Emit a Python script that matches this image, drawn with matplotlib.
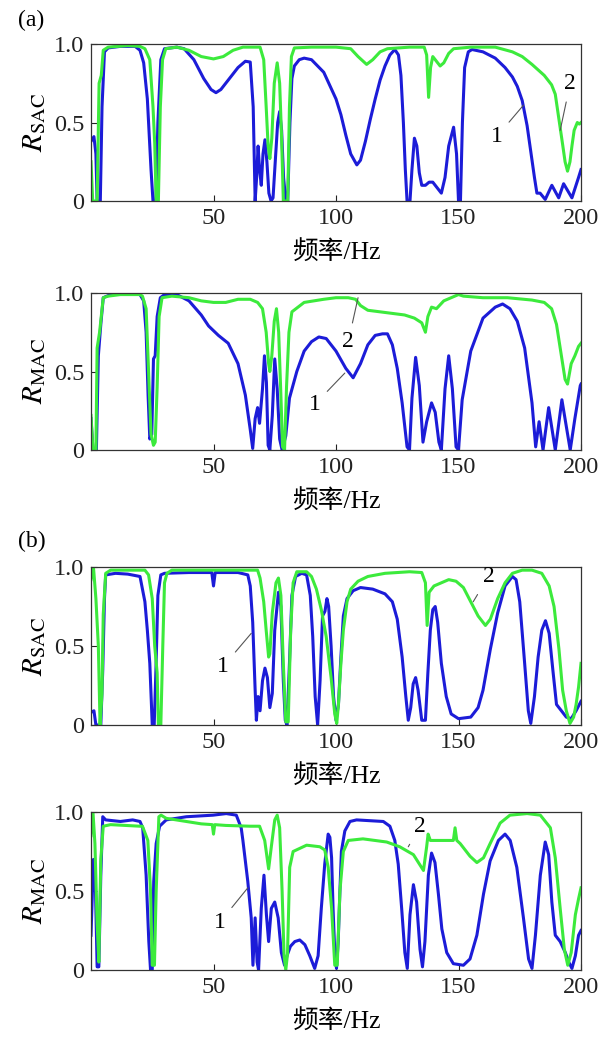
import matplotlib
matplotlib.use("Agg")
import matplotlib.pyplot as plt

plt.rcParams['font.family'] = ['Liberation Serif', 'Noto Sans CJK SC', 'DejaVu Sans']
plt.rcParams['mathtext.fontset'] = 'stix'

# ---------------- data (frequency in Hz, correlation value) ----------------
a1_blue_f = [0, 1.2, 2.0, 2.5, 3.8, 4.5, 5.5, 7, 12, 18, 20, 21.5, 23, 24.5, 25.3, 26.5, 27.3, 28.5, 30, 35,
             38, 42, 46, 49, 51, 53, 56, 60, 63, 65, 66.2, 67, 67.6, 68.2, 68.8, 69.5, 70.2, 71, 71.8, 72.6,
             73.5, 74.3, 75.2, 76.2, 77, 77.8, 78.6, 79.5, 80.3, 81.2, 82, 83, 85, 87, 90, 95, 100, 102, 104,
             106, 108.5, 110, 112, 114, 116, 118, 120, 122, 124, 125.5, 126.5, 127.5, 128.3, 129, 130.2, 131,
             132, 133, 134, 135, 136.5, 138, 139.5, 141, 143, 144.5, 146, 148, 149.2, 150, 150.8, 151.6, 152.5,
             154, 155.5, 160, 165, 169, 172, 174, 176, 178, 180, 181, 182, 183.3, 185.4, 188.1, 190.9, 192.9,
             196.3, 199, 200]
a1_blue = [0.38, 0.41, 0.3, 0.0, 0.0, 0.6, 0.95, 0.975, 0.985, 0.985, 0.96, 0.88, 0.65, 0.2, 0.0, 0.0, 0.5, 0.9,
           0.97, 0.98, 0.97, 0.9, 0.78, 0.71, 0.69, 0.71, 0.77, 0.85, 0.89, 0.885, 0.6, 0.0, 0.15, 0.35, 0.2,
           0.1, 0.3, 0.39, 0.25, 0.05, 0.0, 0.02, 0.25, 0.5, 0.57, 0.45, 0.15, 0.0, 0.0, 0.5, 0.78, 0.86, 0.9,
           0.91, 0.9, 0.82, 0.65, 0.55, 0.42, 0.3, 0.23, 0.26, 0.38, 0.52, 0.65, 0.77, 0.86, 0.93, 0.965, 0.93,
           0.8, 0.5, 0.2, 0.0, 0.0, 0.2, 0.4, 0.35, 0.18, 0.1, 0.1, 0.12, 0.12, 0.09, 0.05, 0.15, 0.35, 0.47,
           0.3, 0.0, 0.0, 0.5, 0.85, 0.95, 0.965, 0.95, 0.91, 0.85, 0.79, 0.73, 0.64, 0.48, 0.26, 0.15, 0.05,
           0.05, 0.01, 0.10, 0.02, 0.11, 0.02, 0.15, 0.2]

a1_green_f = [0, 0.7, 2.5, 3.3, 4.2, 5, 7, 15, 20, 22, 24, 25.3, 26, 26.6, 27.5, 28.3, 29.2, 30.5, 35, 40, 45,
              50, 54, 58, 62, 69, 70.5, 71.5, 72.3, 73, 73.8, 74.8, 76, 77, 77.8, 78.5, 80.3, 81, 81.8, 83, 90,
              100, 106, 109, 112.5, 115, 118, 121, 130, 136, 137, 137.8, 138.6, 139.5, 141, 142.5, 144, 146,
              148, 155, 165, 172, 176, 180, 185, 188, 189.5, 191, 192.5, 193.5, 194.5, 195.5, 196.3, 197.2,
              198.5, 199.3, 200]
a1_green = [0.25, 0.0, 0.0, 0.75, 0.8, 0.96, 0.98, 0.99, 0.985, 0.97, 0.9, 0.6, 0.37, 0.0, 0.0, 0.6, 0.9, 0.97,
            0.98, 0.96, 0.92, 0.905, 0.92, 0.96, 0.98, 0.98, 0.9, 0.6, 0.35, 0.27, 0.4, 0.75, 0.88, 0.75, 0.4,
            0.0, 0.0, 0.6, 0.92, 0.975, 0.98, 0.98, 0.97, 0.92, 0.87, 0.9, 0.95, 0.97, 0.98, 0.98, 0.93, 0.66,
            0.85, 0.92, 0.89, 0.86, 0.88, 0.94, 0.97, 0.98, 0.98, 0.95, 0.92, 0.87, 0.8, 0.74, 0.68, 0.52, 0.36,
            0.25, 0.19, 0.25, 0.35, 0.45, 0.5, 0.49, 0.5]

a2_blue_f = [0, 0.8, 2.2, 3, 4, 5, 8, 15, 20, 21.5, 22.5, 23.3, 24, 24.8, 25.5, 26.2, 27, 28.3, 30, 35, 40, 45,
             48, 52, 56, 60, 63, 65, 66, 67, 68, 68.8, 70, 70.8, 71.6, 72.3, 73, 74, 75, 76, 77, 78, 79.5, 81,
             84, 87, 90, 93, 96, 100, 104, 107, 110, 113, 116, 119, 121, 123, 125, 127, 129, 130, 131, 132.5,
             134, 135.5, 137, 139, 140.5, 142, 143, 144.5, 146, 147.5, 149, 150, 151.5, 155, 160, 165, 168,
             171, 174, 177, 180, 181.5, 182.9, 184.5, 186.8, 189.5, 192.2, 195.6, 197.5, 199.7, 200]
a2_blue = [0.2, 0.0, 0.0, 0.6, 0.8, 0.97, 0.99, 0.995, 0.99, 0.95, 0.75, 0.35, 0.07, 0.1, 0.58, 0.6, 0.85, 0.97,
           0.99, 0.99, 0.95, 0.86, 0.79, 0.73, 0.68, 0.55, 0.35, 0.13, 0.01, 0.2, 0.27, 0.17, 0.39, 0.6, 0.43,
           0.03, 0.0, 0.22, 0.58, 0.39, 0.07, 0.0, 0.09, 0.33, 0.5, 0.63, 0.69, 0.72, 0.71, 0.63, 0.52, 0.46,
           0.55, 0.67, 0.73, 0.74, 0.74, 0.67, 0.52, 0.3, 0.02, 0.0, 0.33, 0.59, 0.41, 0.05, 0.18, 0.3, 0.24,
           0.05, 0.0, 0.39, 0.6, 0.39, 0.02, 0.0, 0.32, 0.63, 0.84, 0.91, 0.93, 0.9, 0.82, 0.65, 0.3, 0.02,
           0.18, 0.0, 0.27, 0.0, 0.32, 0.0, 0.2, 0.41, 0.42]

a2_green_f = [0, 0.8, 2, 2.5, 3.5, 5, 7, 12, 20, 21, 22.5, 23.5, 24.5, 25.5, 26.2, 27, 27.8, 29, 33, 40, 45, 50,
              55, 60, 65, 68, 70, 71.5, 72.5, 73, 73.8, 74.8, 75.7, 76.6, 77.5, 78.2, 79, 79.8, 80.8, 82, 87,
              95, 100, 105, 108, 110, 113, 118, 123, 128, 132, 135, 136.5, 137.5, 139, 141, 144, 147, 150, 152,
              160, 170, 180, 185, 188, 190, 192, 193.5, 194.5, 196, 197.5, 199, 200]
a2_green = [0.22, 0.0, 0.0, 0.65, 0.75, 0.97, 0.98, 0.99, 0.99, 0.98, 0.9, 0.5, 0.1, 0.03, 0.05, 0.4, 0.85, 0.97,
            0.98, 0.97, 0.95, 0.94, 0.94, 0.96, 0.96, 0.94, 0.9, 0.75, 0.55, 0.5, 0.6, 0.82, 0.9, 0.75, 0.35,
            0.02, 0.0, 0.4, 0.75, 0.88, 0.94, 0.96, 0.97, 0.97, 0.96, 0.92, 0.89, 0.88, 0.87, 0.86, 0.84, 0.81,
            0.75, 0.85, 0.91, 0.9, 0.95, 0.97, 0.99, 0.98, 0.97, 0.97, 0.955, 0.94, 0.9, 0.8, 0.6, 0.45, 0.42,
            0.55, 0.6, 0.66, 0.68]

b1_blue_f = [0, 1.2, 2, 4, 4.8, 5.5, 6, 10, 15, 20, 22, 23, 24, 25, 25.8, 26.5, 27.3, 28.5, 30, 40, 49.3, 50,
             50.7, 60, 64, 65, 66, 67, 67.5, 68.2, 69, 70, 71, 72, 73, 74, 75, 76.5, 77.5, 78.5, 79.3, 80, 81,
             82, 83.5, 86, 88, 89.5, 90.5, 91.5, 92.5, 93.5, 94.5, 95.5, 96.3, 97, 98, 99, 100, 101, 102, 103,
             104.5, 107, 110, 115, 120, 123, 125, 127, 128.5, 129.5, 130.5, 131.5, 132.5, 133.5, 135, 136.5,
             137.5, 138.5, 139.5, 140.5, 141.5, 143, 145, 147, 150, 155, 158, 160, 163, 166, 169, 172, 173.5,
             175, 177, 178.5, 179.5, 181, 182.5, 184, 185.5, 187, 188.5, 190, 192, 194, 196, 198, 200]
b1_blue = [0.08, 0.09, 0.0, 0.0, 0.35, 0.8, 0.95, 0.96, 0.955, 0.94, 0.78, 0.6, 0.39, 0.0, 0.0, 0.35, 0.82, 0.95,
           0.96, 0.965, 0.965, 0.88, 0.965, 0.965, 0.95, 0.88, 0.65, 0.22, 0.03, 0.18, 0.09, 0.28, 0.36, 0.3,
           0.11, 0.2, 0.6, 0.84, 0.75, 0.28, 0.03, 0.0, 0.39, 0.82, 0.94, 0.96, 0.95, 0.82, 0.56, 0.18, 0.0,
           0.28, 0.69, 0.72, 0.8, 0.75, 0.5, 0.18, 0.03, 0.13, 0.43, 0.69, 0.8, 0.85, 0.87, 0.86, 0.83, 0.78,
           0.67, 0.43, 0.18, 0.03, 0.11, 0.26, 0.3, 0.22, 0.03, 0.03, 0.33, 0.6, 0.73, 0.75, 0.65, 0.39, 0.18,
           0.07, 0.04, 0.05, 0.11, 0.22, 0.48, 0.71, 0.88, 0.94, 0.92, 0.78, 0.39, 0.09, 0.01, 0.18, 0.43, 0.6,
           0.66, 0.58, 0.35, 0.13, 0.09, 0.05, 0.04, 0.09, 0.15]

b1_green_f = [0, 1, 2, 3, 3.7, 4.5, 5, 6, 8, 22, 23.5, 25, 26, 27, 27.5, 28.5, 29.3, 30, 31, 33, 68, 69, 70.5,
              71.5, 72.5, 73, 74, 75.5, 76.5, 77.5, 78.5, 79.5, 80.5, 81.5, 82.5, 84, 88, 90, 92, 94, 96, 98,
              99.5, 100.3, 101, 102, 103, 104.5, 106, 109, 113, 120, 130, 135, 136.5, 137.2, 138, 140, 143, 146,
              149, 152, 155, 158, 161, 163, 166, 169, 172, 176, 180, 184, 187, 189, 191, 192.5, 194, 195.5, 197,
              198, 199, 200]
b1_green = [0.92, 1.0, 0.8, 0.5, 0.0, 0.2, 0.7, 0.96, 0.98, 0.98, 0.95, 0.8, 0.5, 0.33, 0.0, 0.0, 0.5, 0.9, 0.96,
            0.98, 0.98, 0.93, 0.78, 0.6, 0.43, 0.45, 0.71, 0.9, 0.93, 0.82, 0.39, 0.02, 0.02, 0.6, 0.9, 0.97,
            0.97, 0.94, 0.86, 0.73, 0.56, 0.3, 0.07, 0.01, 0.13, 0.39, 0.6, 0.78, 0.86, 0.91, 0.94, 0.96, 0.97,
            0.965, 0.9, 0.63, 0.84, 0.88, 0.9, 0.92, 0.91, 0.87, 0.78, 0.69, 0.63, 0.67, 0.8, 0.9, 0.96, 0.98,
            0.98, 0.96, 0.88, 0.75, 0.48, 0.22, 0.09, 0.01, 0.05, 0.13, 0.24, 0.39]

b2_blue_f = [0, 1, 1.7, 2.5, 3.2, 4, 4.8, 6, 12, 17, 20, 21.1, 22.5, 23.6, 24.3, 25, 25.6, 26.6, 28, 30.7, 38.9,
             49.8, 55.2, 59.3, 61.3, 62, 64, 65.4, 66.1, 67, 67.8, 68.4, 69.5, 70.6, 71.6, 72.5, 73.6, 75, 76.4,
             77.7, 79, 80, 81.4, 83.2, 85.2, 87.3, 89.3, 91.3, 92.7, 94, 95.4, 96.8, 97.5, 98.2, 98.8, 99.5,
             100.2, 100.9, 101.6, 102.2, 103.6, 105.7, 108.4, 113.8, 119.3, 122, 124, 125.4, 126.8, 128.1,
             129.1, 130.2, 131.6, 132.9, 134.3, 135.3, 136.3, 137.7, 139, 140.4, 141.8, 143.2, 145.2, 147.9,
             152, 154.7, 157.5, 160.2, 162.9, 166.3, 169, 171.1, 173.8, 176.5, 178.6, 180, 181.4, 183.4, 185.4,
             186.8, 188.1, 189.5, 191.5, 193.6, 195, 196.3, 197.7, 199, 200]
b2_blue = [0.22, 0.7, 0.6, 0.02, 0.02, 0.6, 0.97, 0.95, 0.94, 0.95, 0.94, 0.9, 0.6, 0.18, 0.0, 0.0, 0.56, 0.8,
           0.91, 0.95, 0.97, 0.98, 0.99, 0.98, 0.9, 0.82, 0.56, 0.33, 0.03, 0.33, 0.05, 0.0, 0.39, 0.6, 0.35,
           0.18, 0.39, 0.43, 0.33, 0.11, 0.03, 0.09, 0.15, 0.18, 0.19, 0.16, 0.09, 0.01, 0.09, 0.39, 0.67, 0.86,
           0.84, 0.71, 0.39, 0.11, 0.01, 0.18, 0.5, 0.75, 0.88, 0.94, 0.95, 0.945, 0.94, 0.91, 0.82, 0.67, 0.39,
           0.11, 0.01, 0.35, 0.54, 0.43, 0.13, 0.02, 0.18, 0.6, 0.74, 0.68, 0.48, 0.26, 0.11, 0.04, 0.03, 0.07,
           0.22, 0.48, 0.69, 0.82, 0.86, 0.82, 0.65, 0.33, 0.07, 0.01, 0.22, 0.6, 0.81, 0.73, 0.43, 0.22, 0.18,
           0.11, 0.05, 0.01, 0.09, 0.22, 0.25]

b2_green_f = [0, 0.8, 1.6, 2.5, 3.2, 4, 5, 8, 20, 21, 23.2, 24.3, 25, 25.9, 26.6, 27.7, 28.6, 30.7, 38.9, 45,
              49.5, 50, 50.5, 55, 65, 68.8, 70.9, 72.5, 73.6, 75, 76, 77, 78, 78.8, 79.5, 80.2, 81.1, 82.5, 88,
              93.4, 95.4, 96.8, 98.2, 99.5, 100.5, 101.6, 103, 105, 111, 120.7, 126, 131.6, 135.7, 137, 137.6,
              138.5, 142.5, 147.9, 148.6, 149.3, 150.7, 154.7, 157.5, 160.2, 162.9, 167, 171, 178, 183.4, 187.5,
              189.5, 191.5, 193.2, 194.6, 196, 197.7, 199, 200]
b2_green = [0.85, 1.0, 0.8, 0.3, 0.05, 0.7, 0.91, 0.92, 0.91, 0.91, 0.82, 0.5, 0.03, 0.03, 0.5, 0.97, 0.98,
            0.96, 0.94, 0.925, 0.92, 0.86, 0.92, 0.915, 0.91, 0.91, 0.82, 0.64, 0.78, 0.95, 0.98, 0.9, 0.5, 0.09,
            0.0, 0.1, 0.65, 0.75, 0.79, 0.78, 0.76, 0.65, 0.39, 0.03, 0.03, 0.5, 0.75, 0.82, 0.83, 0.81, 0.78,
            0.73, 0.63, 0.78, 0.86, 0.82, 0.82, 0.82, 0.9, 0.82, 0.8, 0.72, 0.68, 0.71, 0.8, 0.93, 0.98, 0.99,
            0.98, 0.9, 0.71, 0.39, 0.13, 0.03, 0.11, 0.35, 0.45, 0.52]

# annotation label positions (text position, end of leader line) in data units
a1_notes = [("1", (165.6, 0.41), (176.5, 0.61)), ("2", (195.6, 0.75), (191.5, 0.45))]
a2_notes = [("2", (105.0, 0.69), (109.0, 0.97)), ("1", (91.3, 0.29), (103.6, 0.49))]
b1_notes = [("1", (53.9, 0.37), (65.4, 0.58)), ("2", (162.2, 0.94), (156.0, 0.78))]
b2_notes = [("1", (52.5, 0.30), (64.0, 0.52)), ("2", (134.3, 0.91), (129.5, 0.78))]

x_ticks = [50, 100, 150, 200]
y_ticks = [0, 0.5, 1.0]
y_tick_labels = ["0", "0.5", "1.0"]

BLUE = "#1c1cd8"
GREEN = "#3cea3c"

W, H = 606, 1039
fig = plt.figure(figsize=(W / 100, H / 100), dpi=100)

panels = [
    (44, 201, a1_blue_f, a1_blue, a1_green_f, a1_green, a1_notes, r"$R_{\mathrm{SAC}}$"),
    (293, 450, a2_blue_f, a2_blue, a2_green_f, a2_green, a2_notes, r"$R_{\mathrm{MAC}}$"),
    (567, 725, b1_blue_f, b1_blue, b1_green_f, b1_green, b1_notes, r"$R_{\mathrm{SAC}}$"),
    (812, 970, b2_blue_f, b2_blue, b2_green_f, b2_green, b2_notes, r"$R_{\mathrm{MAC}}$"),
]

left_px, right_px = 91, 581
for top, bot, bf, bv, gf, gv, notes, ylab in panels:
    ax = fig.add_axes([left_px / W, 1 - bot / H, (right_px - left_px) / W, (bot - top) / H])
    ax.plot(bf, bv, color=BLUE, lw=2.2, solid_joinstyle='round')
    ax.plot(gf, gv, color=GREEN, lw=2.2, solid_joinstyle='round')
    ax.set_xlim(0, 200)
    ax.set_ylim(0, 1.0)
    ax.set_xticks(x_ticks)
    ax.set_xticklabels([str(t) for t in x_ticks])
    ax.set_yticks(y_ticks)
    ax.set_yticklabels(y_tick_labels)
    ax.tick_params(direction='in', length=4, width=0.8, labelsize=17.5, pad=5,
                   top=False, right=False, colors='#222222')
    for s in ax.spines.values():
        s.set_linewidth(0.9)
        s.set_color('#333333')
    ax.set_xlabel("频率/Hz", fontsize=18.5, labelpad=8)
    ax.set_ylabel(ylab, fontsize=21, labelpad=4)
    for lab, txy, exy in notes:
        ax.annotate(lab, xy=exy, xytext=txy, fontsize=17, ha='center', va='center',
                    arrowprops=dict(arrowstyle='-', color='#555555', lw=0.8, shrinkA=4, shrinkB=0))

fig.text(18 / W, 1 - 20 / H, "(a)", fontsize=17, va='center', ha='left')
fig.text(18 / W, 1 - 541 / H, "(b)", fontsize=17, va='center', ha='left')

fig.savefig("out.png", dpi=100)
